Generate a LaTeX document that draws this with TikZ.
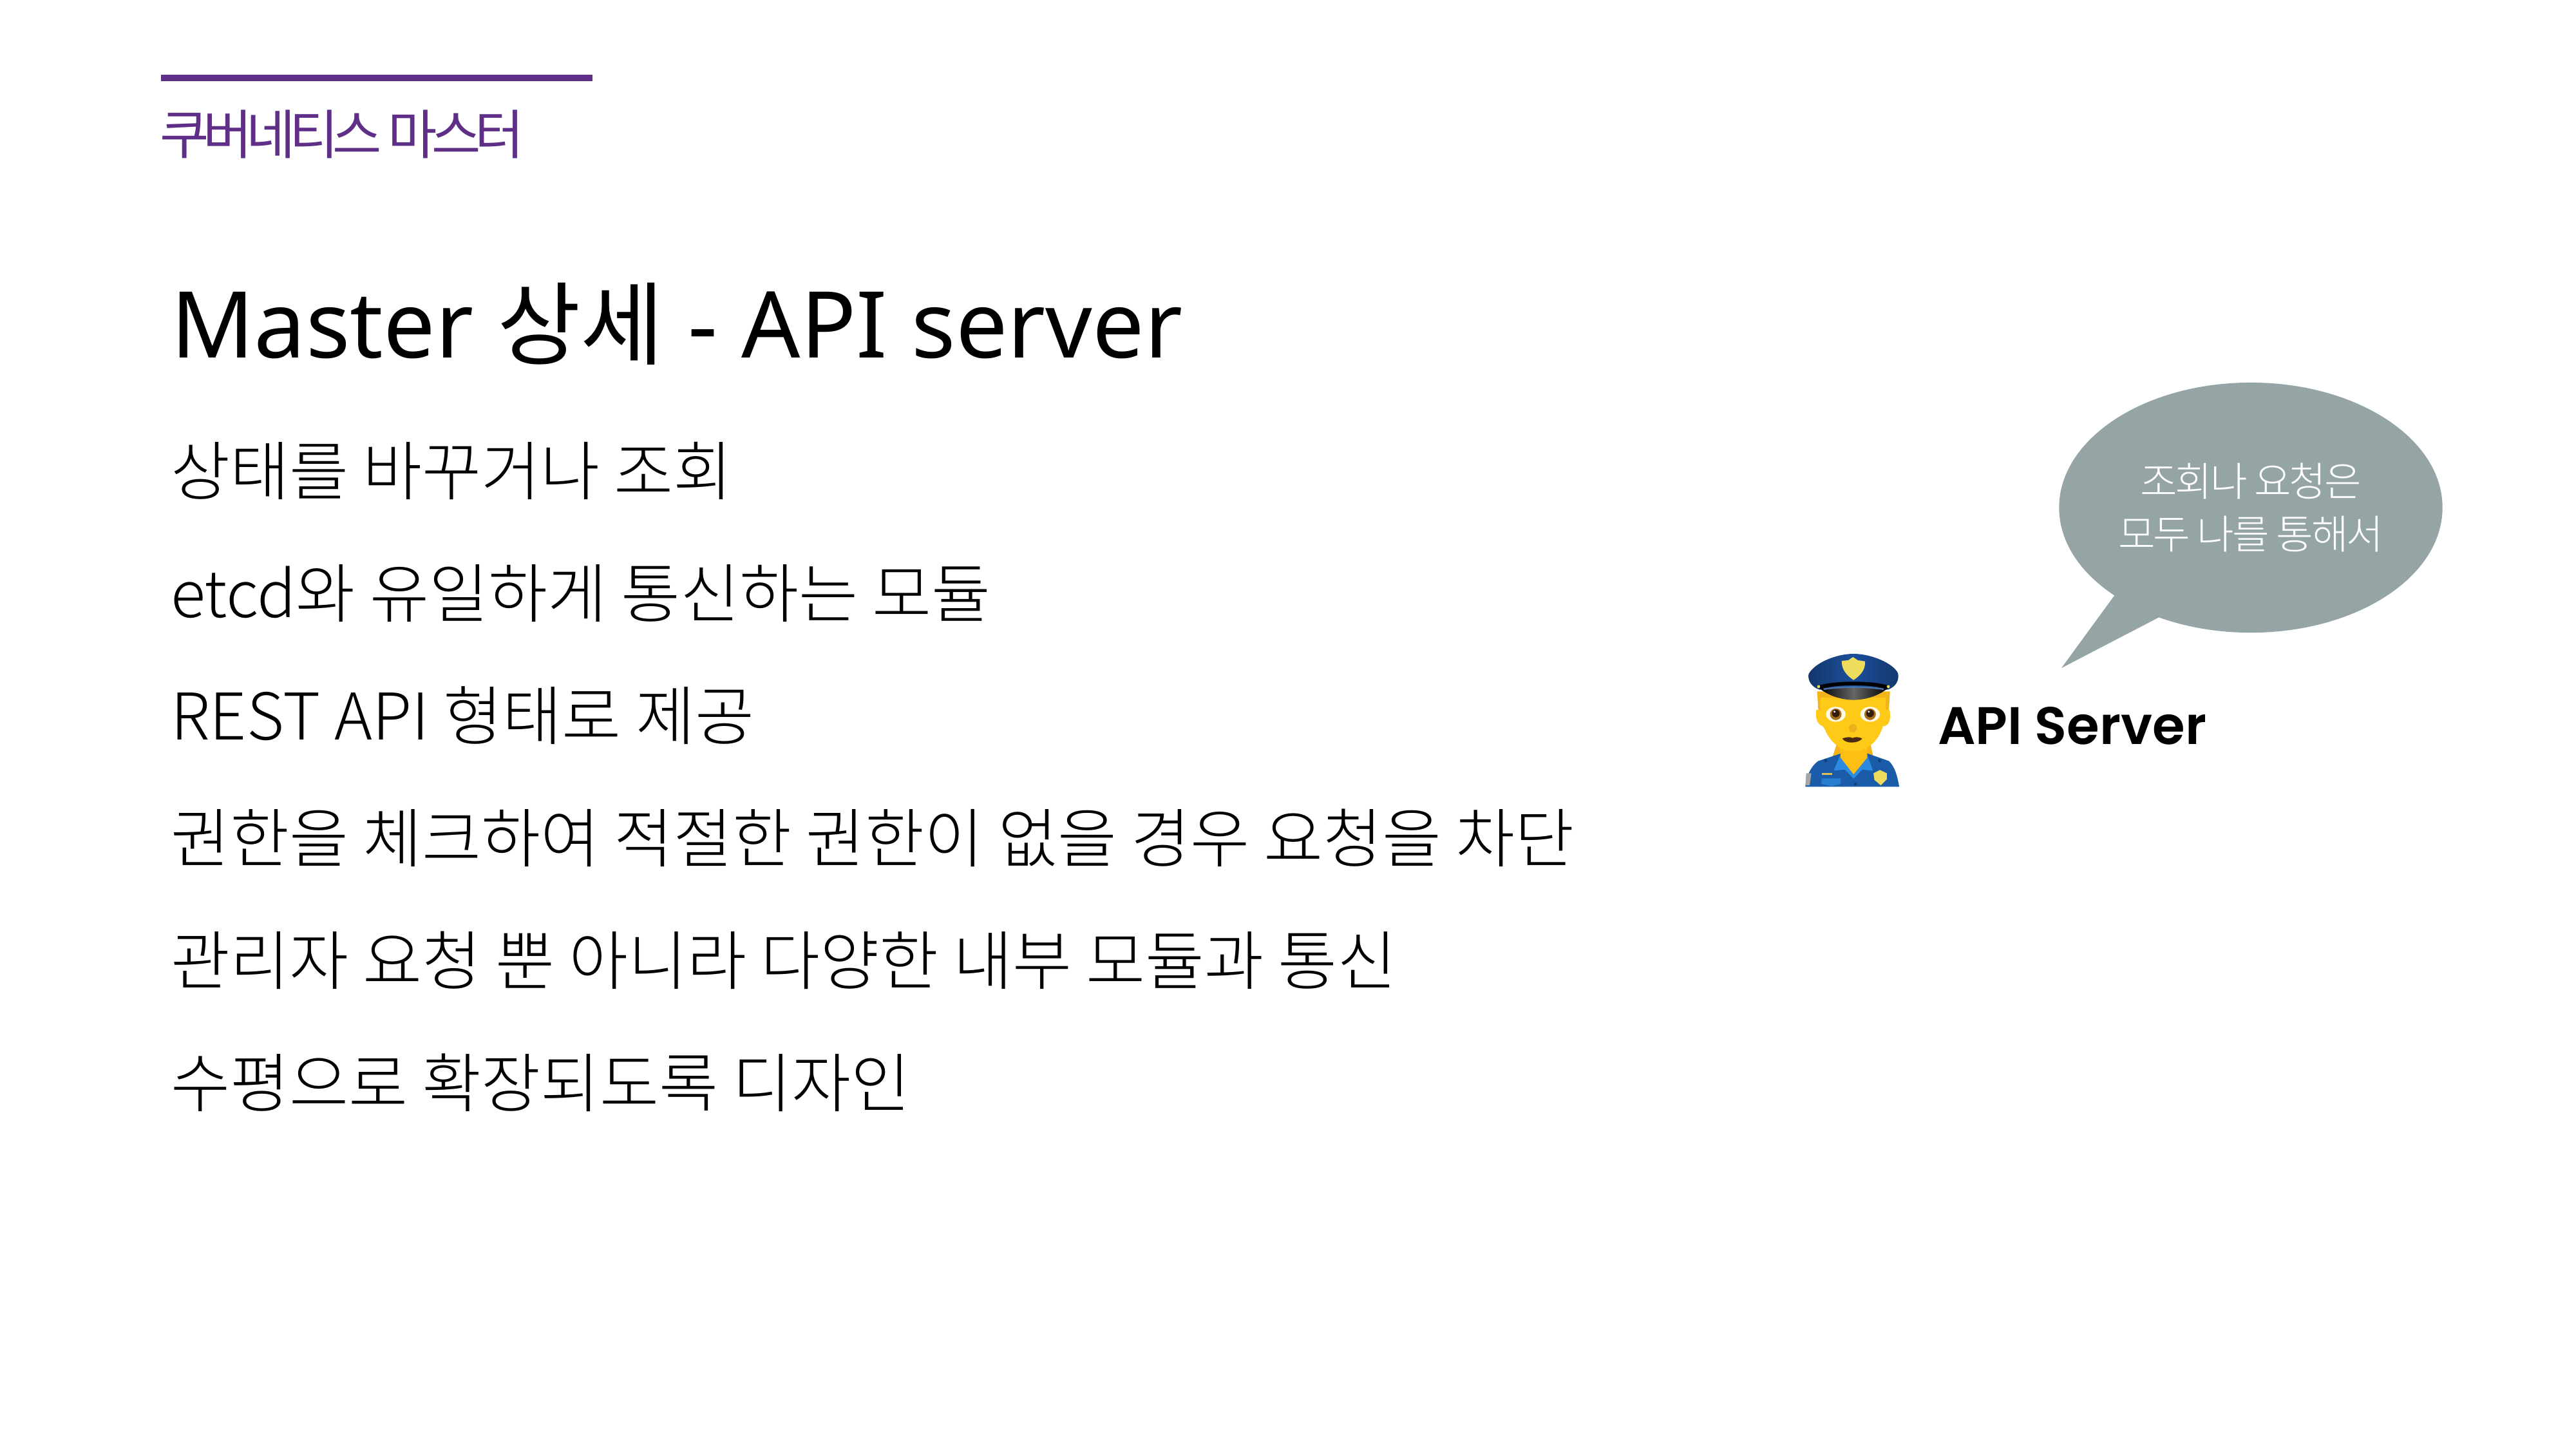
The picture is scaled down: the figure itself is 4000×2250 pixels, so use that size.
\documentclass[tikz,border=0pt]{standalone}
\usepackage{fontspec}
\usetikzlibrary{shapes.geometric}
\newfontfamily\krreg{Noto Sans CJK KR}
\newfontfamily\latreg{Noto Sans}
\newfontfamily\krlight{Noto Sans CJK KR Light}
\newfontfamily\krtop[LetterSpace=-11]{Noto Sans CJK KR}
\newfontfamily\krsay[LetterSpace=-5]{Noto Sans CJK KR Light}
\newfontfamily\apifont{Poppins SemiBold}
\definecolor{topcol}{HTML}{5F2E87}
\definecolor{saycol}{HTML}{95A5A6}
\definecolor{capblue}{HTML}{1B4F9A}
\definecolor{suitblue}{HTML}{1A5CA8}
\definecolor{shirtblue}{HTML}{2C8BE0}
\definecolor{skin}{HTML}{FFC917}
\definecolor{hair}{HTML}{F2B418}
\definecolor{badge}{HTML}{EEDC5C}
\definecolor{iris}{HTML}{A9701C}
\definecolor{lip}{HTML}{4A2A10}
\begin{document}
\begin{tikzpicture}[x=0.01cm,y=-0.01cm]
\tikzset{
    txt/.style={inner sep=0pt,outer sep=0pt,anchor=base west},
    topline/.style={fill=topcol},
    bubble/.style={ellipse,fill=saycol,text=white,align=center,inner sep=0pt,minimum width=5.95cm,minimum height=3.88cm,
        font=\krsay\fontsize{17.8pt}{23.3pt}\selectfont},
    suit/.style={fill=suitblue},
    shirt/.style={fill=shirtblue},
    face/.style={fill=skin},
    gold/.style={fill=badge}}
\def\linefont{\krlight\fontsize{28.45pt}{34pt}\selectfont}

\path[use as bounding box] (0,0) rectangle (4000,2250);

% heading
\fill[topline] (250,116) rectangle (920,126);
\node[txt,text=topcol] (section) at (248,239) {\krtop\fontsize{23.6pt}{28pt}\selectfont 쿠버네티스 마스터};
\node[txt] (title) at (265,555) {\fontsize{40.7pt}{50pt}\selectfont\latreg Master {\krreg\fontsize{40pt}{50pt}\selectfont 상세} - API server};

% body lines
\foreach \i/\txtline in {1/상태를 바꾸거나 조회,
                         2/etcd와 유일하게 통신하는 모듈,
                         3/REST API 형태로 제공,
                         4/권한을 체크하여 적절한 권한이 없을 경우 요청을 차단,
                         5/관리자 요청 뿐 아니라 다양한 내부 모듈과 통신,
                         6/수평으로 확장되도록 디자인}{
    \node[txt] (line\i) at (265,{578+190*\i}) {\linefont \txtline};
}

% speech bubble
\coordinate (tailA) at (3285,922);
\coordinate (tailB) at (3353,958);
\coordinate (tip) at (3201,1037);
\node[bubble] (say) at (3495,788) {조회나 요청은\\모두 나를 통해서};
\fill[saycol] (tailA) -- (tip) -- (tailB) -- cycle;

\node[txt] (apiname) at (3009,1155) {\apifont\fontsize{23.3pt}{28pt}\selectfont API Server};

% officer, coordinates are read off a 3x crop
\begin{scope}[shift={(2790,1010)},x=0.00333cm,y=-0.00333cm]
% hair
\fill[hair] (95,190) -- (435,190) -- (430,270) -- (405,350) -- (345,440) -- (358,500) -- (165,500) -- (185,440) -- (120,350) -- (100,270) -- cycle;
% uniform
\fill[suit] (40,635) .. controls (45,590) and (60,545) .. (100,515) -- (205,480) -- (330,480) -- (430,515) .. controls (460,545) and (470,590) .. (478,635) -- cycle;
\fill[shirt] (205,482) -- (172,560) -- (225,555) -- (265,598) -- (305,555) -- (355,560) -- (328,482) -- cycle;
\fill[fill=skin!85!orange] (200,430) -- (330,430) -- (328,500) -- (265,577) -- (205,500) -- cycle;
% details of the uniform
\fill[fill=shirtblue!70!suitblue] (115,596) -- (205,596) -- (205,622) -- (160,632) -- (115,622) -- cycle;
\fill[badge!70!brown] (118,570) rectangle (165,581);
\fill[gray!70] (44,572) -- (68,572) -- (60,628) -- (40,628) -- cycle;
\fill[gold] (388,557) -- (420,572) -- (420,600) -- (392,628) -- (362,603) -- (358,572) -- cycle;
\fill[suitblue!70!black] (135,513) circle (8);
\fill[suitblue!70!black] (386,513) circle (8);
\fill[suitblue!70!black] (274,623) circle (7);
% head
\fill[face] (92,275) .. controls (85,310) and (95,345) .. (120,352) -- (410,352) .. controls (435,345) and (440,310) .. (432,275) -- cycle;
\fill[face] (110,220) -- (415,220) .. controls (420,320) and (400,400) .. (340,445) .. controls (290,480) and (240,480) .. (190,445) .. controls (130,400) and (105,320) .. (110,220) -- cycle;
% eyes
\foreach \ex in {182,342}{
    \fill[white!90!skin] (\ex,297) ellipse [x radius=46,y radius=35];
    \fill[iris] (\ex,297) circle (27);
    \fill[lip!70!black] (\ex,293) circle (18);
    \fill[white] (\ex-6,285) circle (5);
}
\fill[hair!90!brown] (262,362) circle (19);
\fill[lip] (212,410) .. controls (235,402) and (250,402) .. (260,408) .. controls (270,402) and (290,402) .. (305,410) .. controls (290,432) and (230,438) .. (212,410) -- cycle;
% cap
\shade[left color=capblue!70!black,right color=capblue!70!black,middle color=capblue] (55,110) .. controls (80,60) and (180,15) .. (265,15) .. controls (350,15) and (450,60) .. (472,105) .. controls (480,140) and (460,170) .. (425,182) -- (105,182) .. controls (70,170) and (50,140) .. (55,110) -- cycle;
\shade[left color=black,right color=black,middle color=black!60] (105,175) .. controls (180,165) and (350,165) .. (425,175) .. controls (390,205) and (330,230) .. (265,230) .. controls (200,230) and (140,205) .. (105,175) -- cycle;
\draw[black,line width=1.6pt] (108,170) .. controls (180,148) and (350,148) .. (422,170);
\draw[capblue!80!white,line width=0.7pt] (125,180) .. controls (200,167) and (330,167) .. (405,180);
\fill[gold] (102,168) circle (7);
\fill[gold] (427,168) circle (7);
\fill[gold] (210,48) -- (240,45) -- (262,30) -- (285,45) -- (318,50) .. controls (322,85) and (300,115) .. (265,137) .. controls (230,115) and (208,85) .. (210,48) -- cycle;
\end{scope}
\end{tikzpicture}
\end{document}
